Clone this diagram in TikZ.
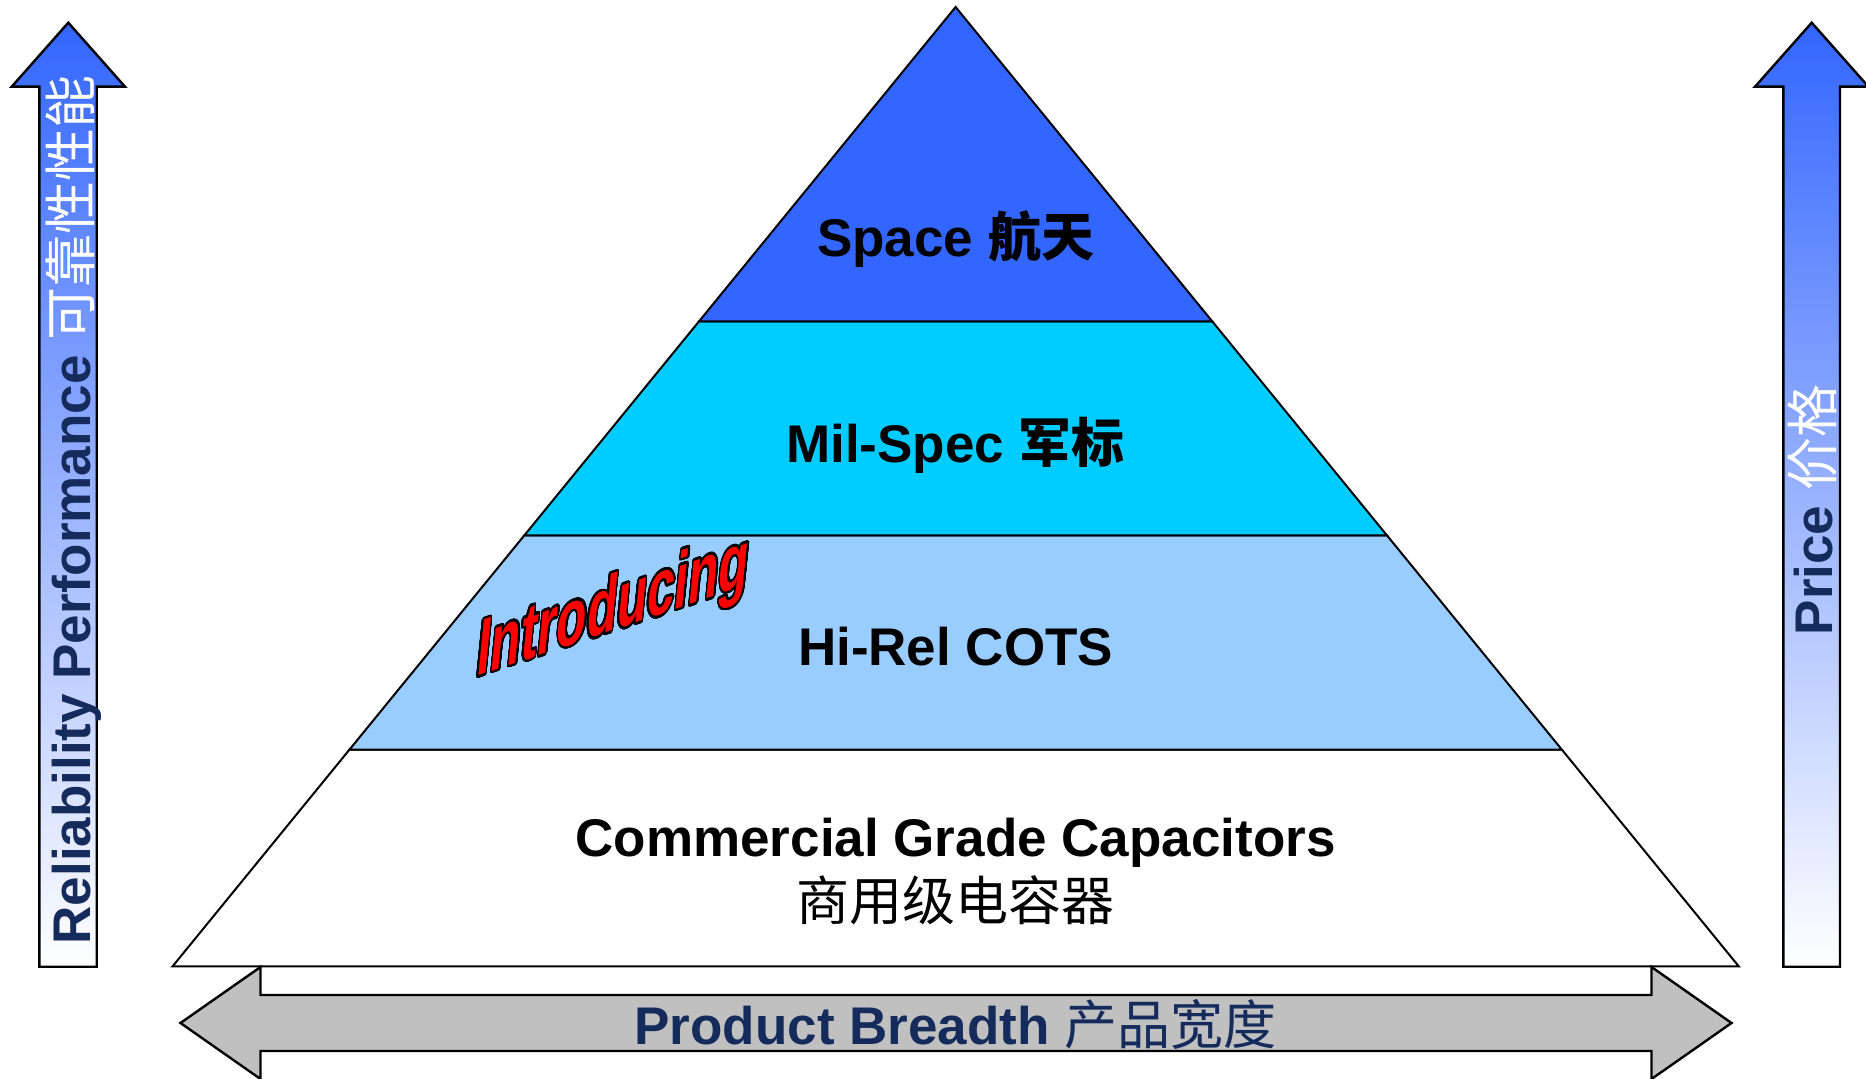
\documentclass[tikz,border=0pt]{standalone}
\usepackage{fontspec}
\setmainfont{Liberation Sans}
\newfontfamily\cjk{Noto Sans CJK SC}
\usepackage{contour}
\usetikzlibrary{calc}
\definecolor{spaceblue}{HTML}{3366FF}
\definecolor{milcyan}{HTML}{00CCFF}
\definecolor{hirelblue}{HTML}{99CCFF}
\definecolor{breadthgray}{HTML}{C0C0C0}
\definecolor{labelnavy}{HTML}{152B5C}
\definecolor{introred}{HTML}{FF0000}
\contourlength{1.3pt}
\contournumber{32}
\begin{document}
\begin{tikzpicture}[x=0.5pt,y=-0.5pt,
    layer/.style={draw=black, line width=1pt},
    tier/.style={font=\fontsize{26.5}{30}\selectfont\bfseries, inner sep=0pt, anchor=base},
    uparrow/.style={draw=black, line width=1.2pt, top color=spaceblue, bottom color=white},
    sidearrow/.style={draw=black, line width=1.2pt, fill=breadthgray}]
  \useasboundingbox (0,0) rectangle (1866,1079);
  % pyramid corners and tier borders
  \coordinate (apex) at (955.6,7);
  \coordinate (bl) at (172.6,966.3);
  \coordinate (br) at (1738.7,966.3);
  \coordinate (l1) at ($(apex)!0.3276!(bl)$);
  \coordinate (r1) at ($(apex)!0.3276!(br)$);
  \coordinate (l2) at ($(apex)!0.5508!(bl)$);
  \coordinate (r2) at ($(apex)!0.5508!(br)$);
  \coordinate (l3) at ($(apex)!0.7741!(bl)$);
  \coordinate (r3) at ($(apex)!0.7741!(br)$);
  \draw[layer, fill=white] (l3) -- (r3) -- (br) -- (bl) -- cycle;
  \draw[layer, fill=hirelblue] (l2) -- (r2) -- (r3) -- (l3) -- cycle;
  \draw[layer, fill=milcyan] (l1) -- (r1) -- (r2) -- (l2) -- cycle;
  \draw[layer, fill=spaceblue] (apex) -- (r1) -- (l1) -- cycle;
  \node[tier] (space) at (955.6,257) {Space {\cjk 航天}};
  \node[tier] (milspec) at (955.6,462) {Mil-Spec {\cjk 军标}};
  \node[tier] (hirel) at (955.6,665) {Hi-Rel COTS};
  \node[tier] (commercial) at (955.6,856) {Commercial Grade Capacitors};
  \node[tier] (commercialcn) at (955.6,920) {\cjk\mdseries 商用级电容器};
  % introducing banner
  \begin{scope}[shift={(475,677)}, cm={0.61,0.206,0.1,1,(0,0)}]
    \node[transform shape, anchor=base west, inner sep=0pt,
      font=\fontsize{40.5}{44}\selectfont\bfseries] (intro) at (0,0)
      {\contour{black}{\textcolor{introred}{Introducing}}};
  \end{scope}
  % arrows
  \draw[uparrow] (39.3,966.7) -- (39.3,86.7) -- (11.7,86.7) -- (68.3,22.7)
    -- (125,86.7) -- (96.7,86.7) -- (96.7,966.7) -- cycle;
  \draw[uparrow] (1783.3,966.7) -- (1783.3,86.7) -- (1755,86.7) -- (1811.7,22.7)
    -- (1868.4,86.7) -- (1840,86.7) -- (1840,966.7) -- cycle;
  \draw[sidearrow] (180.5,1023) -- (260.5,967) -- (260.5,995) -- (1651.5,995)
    -- (1651.5,967) -- (1731.5,1023) -- (1651.5,1079) -- (1651.5,1051)
    -- (260.5,1051) -- (260.5,1079) -- cycle;
  \node[tier, rotate=90] (reliability) at (90.5,510)
    {\textcolor{labelnavy}{Reliability Performance} \textcolor{white}{\cjk\mdseries 可靠性性能}};
  \node[tier, rotate=90] (price) at (1832,510)
    {\textcolor{labelnavy}{Price} \textcolor{white}{\cjk\mdseries 价格}};
  \node[tier, text=labelnavy] (breadth) at (955.6,1044) {Product Breadth {\cjk\mdseries 产品宽度}};
\end{tikzpicture}
\end{document}
